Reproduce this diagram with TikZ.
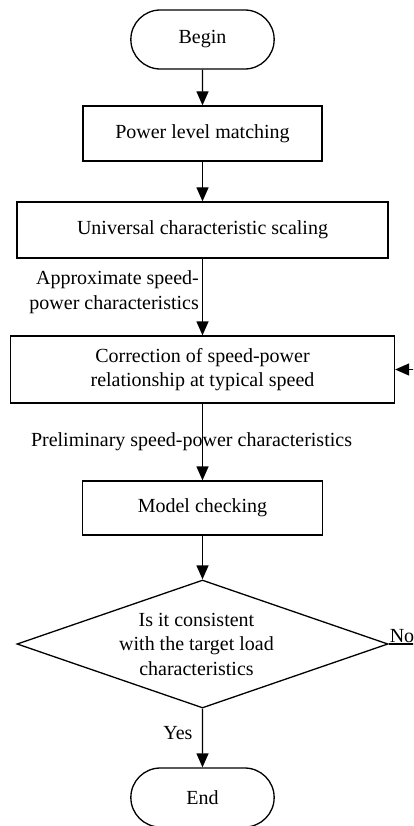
\documentclass[tikz,border=0pt]{standalone}
\usepackage{fontspec}
\setmainfont{Liberation Serif}
\usetikzlibrary{shapes.misc,shapes.geometric,arrows.meta}

\begin{document}
\begin{tikzpicture}[x=1pt, y=-1pt, line width=1.3pt, >={Triangle[length=14pt,width=12pt]},
        font=\fontsize{20}{24.5}\selectfont,
        term/.style = {draw, rounded rectangle, minimum width=150pt, minimum height=59pt},
        proc/.style = {draw, rectangle, align=center, inner sep=0pt},
        decision/.style = {draw, diamond, minimum width=371pt, minimum height=128pt, inner sep=0pt}]
        \path[use as bounding box, clip] (0,0) rectangle (413,826);
        \node[term] (1) at (202.5,39.5) {Begin};
        \node[proc, minimum width=239pt, minimum height=55pt] (2) [below of=1, node distance=94pt] {Power level matching};
        \node[proc, minimum width=371pt, minimum height=56pt] (3) [below of=2, node distance=96.5pt] {Universal characteristic scaling};
        \node[proc, minimum width=384pt, minimum height=67pt] (4) [below of=3, node distance=139.5pt] {Correction of speed-power\\relationship at typical speed};
        \node[proc, minimum width=240pt, minimum height=54pt] (5) [below of=4, node distance=138.5pt] {Model checking};
        \node[decision] (6) [below of=5, node distance=136pt] {};
        \node[align=center, xshift=-6pt] (8) at (6) {Is it consistent\\with the target load\\characteristics};
        \node[term] (7) [below of=6, node distance=153.5pt] {End};
        \draw[->] (1) -- (2);
        \draw[->] (2) -- (3);
        \draw[->] (3) -- node[left, pos=0.44, align=right, inner sep=3pt] {Approximate speed-\\power characteristics} (4);
        \draw[->] (4) -- node[xshift=-11pt] {Preliminary speed-power characteristics} (5);
        \draw[->] (5) -- (6);
        \draw[->] (6) -- node[left=6pt, pos=0.42] {Yes} (7);
        % the loop back runs just past the right margin
        \draw[->] (6.east) -- node[pos=0, anchor=south west, inner sep=0.5pt] {No} ++(30,0) |- (4.east);
    \end{tikzpicture}
\end{document}
